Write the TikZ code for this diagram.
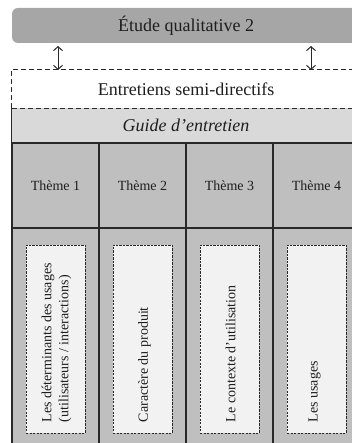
\documentclass[tikz,border=0pt]{standalone}
\usepackage{fontspec}
\setmainfont{Liberation Serif}
\usetikzlibrary{arrows.meta}

\definecolor{titlegray}{RGB}{166,166,166}
\definecolor{cellgray}{RGB}{191,191,191}
\definecolor{guidegray}{RGB}{217,217,217}
\definecolor{cardfill}{RGB}{242,242,242}
\definecolor{ink}{RGB}{30,30,30}
\definecolor{rule}{RGB}{40,40,40}

\tikzset{
  titlebox/.style={rectangle, rounded corners=6pt, fill=titlegray, draw=none,
    minimum width=348pt, minimum height=35pt, inner sep=0pt,
    font=\fontsize{18}{20}\selectfont, text=ink},
  bandbox/.style={rectangle, minimum width=348pt, inner sep=0pt,
    font=\fontsize{18}{20}\selectfont, text=ink},
  dashframe/.style={draw=rule, line width=0.9pt, dash pattern=on 5pt off 3pt},
  themecell/.style={rectangle, draw=rule, line width=1.1pt, fill=cellgray,
    minimum width=87pt, minimum height=85pt, inner sep=0pt,
    font=\fontsize{14}{16}\selectfont, text=ink},
  bodycell/.style={rectangle, draw=rule, line width=1.1pt, fill=cellgray,
    minimum width=87pt, minimum height=240pt, inner sep=0pt},
  card/.style={rectangle, draw=rule, line width=0.8pt, dash pattern=on 2.2pt off 1.3pt,
    fill=cardfill, minimum width=59pt, minimum height=188pt, inner sep=0pt},
  cardtext/.style={rotate=90, anchor=west, align=left, inner sep=0pt,
    font=\fontsize{14}{17}\selectfont, text=ink},
  biarrow/.style={draw=rule, line width=1pt,
    {Straight Barb[length=4pt,width=9pt,line width=1pt]}-{Straight Barb[length=4pt,width=9pt,line width=1pt]}},
}

\begin{document}
\begin{tikzpicture}[x=1pt,y=-1pt]
\useasboundingbox (0,0) rectangle (352,443);
\clip (0,0) rectangle (352,443);

% study banner
\node[titlebox] (title) at (186,25.5) {Étude qualitative 2};

% interview guide band (filled first so the dashed frame sits on top)
\node[bandbox, fill=guidegray, minimum height=35pt] (guide) at (186,125.5)
  {\itshape Guide d’entretien};
\draw[rule, line width=1.1pt] (guide.north west) -- (guide.south west);

% semi-structured interviews frame
\node[bandbox, minimum height=38pt] (entretiens) at (186,89) {Entretiens semi-directifs};
\draw[dashframe] (entretiens.south west) -- (entretiens.north west)
  -- (entretiens.north east) -- (entretiens.south east);
\draw[dashframe] (entretiens.south west) -- (entretiens.south east);

% links between the banner and the frame
\coordinate (lTop) at (58,46);
\coordinate (lBot) at (58,70);
\coordinate (rTop) at (311,46);
\coordinate (rBot) at (311,70);
\draw[biarrow] (lTop) -- (lBot);
\draw[biarrow] (rTop) -- (rBot);

% theme columns
\foreach \i/\cx in {1/55.5, 2/142.5, 3/229.5, 4/316.5} {
  \node[bodycell] (body\i) at (\cx,348) {};
  \node[themecell] (theme\i) at (\cx,185.5) {Thème \i};
  \node[card] (card\i) at (\cx,339) {};
}

% card contents, written bottom to top
\node[cardtext] (txt1) at ([xshift=1pt,yshift=11pt]card1.south)
  {Les déterminants des usages\\(utilisateurs / interactions)};
\node[cardtext] (txt2) at ([xshift=2pt,yshift=11pt]card2.south) {Caractère du produit};
\node[cardtext] (txt3) at ([xshift=1pt,yshift=11pt]card3.south) {Le contexte d’utilisation};
\node[cardtext] (txt4) at ([xshift=-2pt,yshift=11pt]card4.south) {Les usages};
\end{tikzpicture}
\end{document}
